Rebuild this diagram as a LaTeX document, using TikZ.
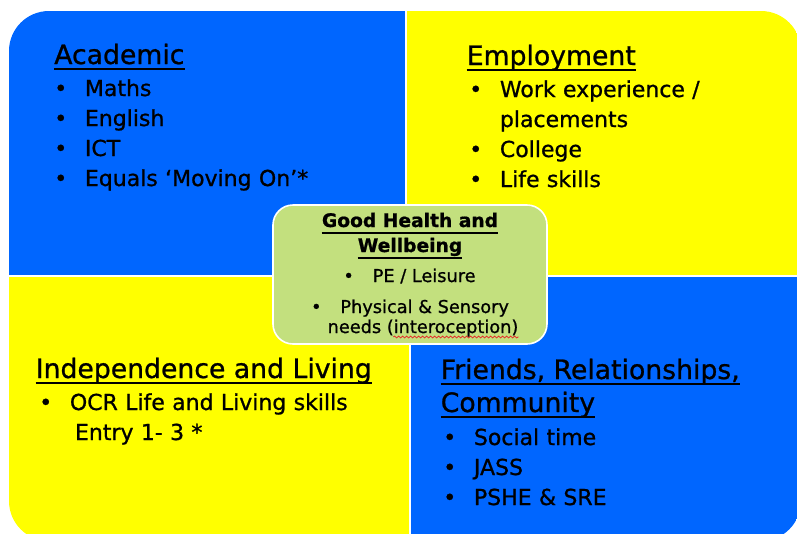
\documentclass[tikz,border=0pt]{standalone}
\usepackage{fontspec}
\setmainfont{DejaVu Sans}[FakeBold=0.9]
\usetikzlibrary{decorations.pathmorphing}
\definecolor{quadblue}{RGB}{0,102,255}
\definecolor{quadyellow}{RGB}{255,255,0}
\definecolor{healthgreen}{RGB}{195,224,126}
\definecolor{spellred}{RGB}{230,40,40}
\newcommand{\bul}{\makebox[23pt][l]{\textbullet}}
\newcommand{\gbul}{\makebox[22pt][l]{\textbullet}}

\begin{document}
\begin{tikzpicture}[x=0.75pt,y=-0.75pt,node distance={22.5pt},
  head/.style={anchor=base west,inner sep=0pt,font={\fontsize{20pt}{24pt}\selectfont}},
  headline/.style={line width=1.4pt},
  item/.style={inner sep=0pt,text width=240pt,align=left,text height=12pt,text depth=4pt,font={\fontsize{16.5pt}{22.5pt}\selectfont}},
  ghead/.style={anchor=base,inner sep=0pt,text height=10pt,text depth=4pt,font={\fontsize{14pt}{18pt}\selectfont\bfseries}},
  gitem/.style={anchor=base,inner sep=0pt,font={\fontsize{13.3pt}{15pt}\selectfont}},
  healthbox/.style={draw=white,line width=1.2pt,fill=healthgreen,rounded corners=15pt,minimum width=205.5pt,minimum height=104.25pt,inner sep=0pt}]
\useasboundingbox (0,0) rectangle (797,533);
\begin{scope}
\clip[rounded corners=30pt] (9,11) rectangle (801,541);
\fill[quadblue] (9,11) rectangle (405,275);
\fill[quadyellow] (407,11) rectangle (801,275);
\fill[quadyellow] (9,277) rectangle (409,541);
\fill[quadblue] (411,277) rectangle (801,541);
\end{scope}
% Academic
\node[head] (academic) at (54,64) {Academic};
\node[item,anchor=base west] (maths) at (54,96) {\bul Maths};
\node[item] (english) [below of=maths] {\bul English};
\node[item] (ict) [below of=english] {\bul ICT};
\node[item] (movingon) [below of=ict] {\bul Equals ‘Moving On’*};
% Employment
\node[head] (employment) at (466.5,65) {Employment};
\node[item,anchor=base west] (workexp) at (469,97) {\bul Work experience /};
\node[item] (placements) [below of=workexp] {\hspace*{23pt}placements};
\node[item] (college) [below of=placements] {\bul College};
\node[item] (lifeskills) [below of=college] {\bul Life skills};
% Independence and Living
\node[head] (independence) at (35.5,378) {Independence and Living};
\node[item,anchor=base west] (ocr) at (39,410) {\bul OCR Life and Living skills};
\node[item] (entry) [below of=ocr] {\hspace*{26.8pt}Entry 1- 3 *};
% Friends, Relationships, Community
\node[head] (friends) at (440.5,379) {Friends, Relationships,};
\node[head] (community) at (440.5,412) {Community};
\node[item,anchor=base west] (social) at (443,445) {\bul Social time};
\node[item] (jass) [below of=social] {\bul JASS};
\node[item] (pshe) [below of=jass] {\bul PSHE \& SRE};
% underlines
\foreach \n in {academic,employment,independence,friends,community}
  \draw[headline] ([shift={(0,5)}]\n.base west) -- ([shift={(0,5)}]\n.base east);
% Good Health and Wellbeing
\node[healthbox] (health) at (410,274.5) {};
\node[ghead] (goodhealth) at (410,227) {Good Health and};
\node[ghead] (wellbeing) [below of=goodhealth,node distance=18.75pt] {Wellbeing};
\foreach \n in {goodhealth,wellbeing}
  \draw[line width=1pt] ([shift={(0,6)}]\n.base west) -- ([shift={(0,6)}]\n.base east);
\node[gitem] (leisure) at (409.5,282) {\gbul PE / Leisure};
\node[gitem] (physical) at (410,313) {\gbul Physical \& Sensory};
\node[gitem] (needs) at (423,333) {needs (interoception)};
\draw[spellred,line width=0.6pt,decorate,decoration={snake,amplitude=0.7pt,segment length=3pt}] ([shift={(66,4)}]needs.base west) -- ([shift={(0,4)}]needs.base east);
\end{tikzpicture}
\end{document}
